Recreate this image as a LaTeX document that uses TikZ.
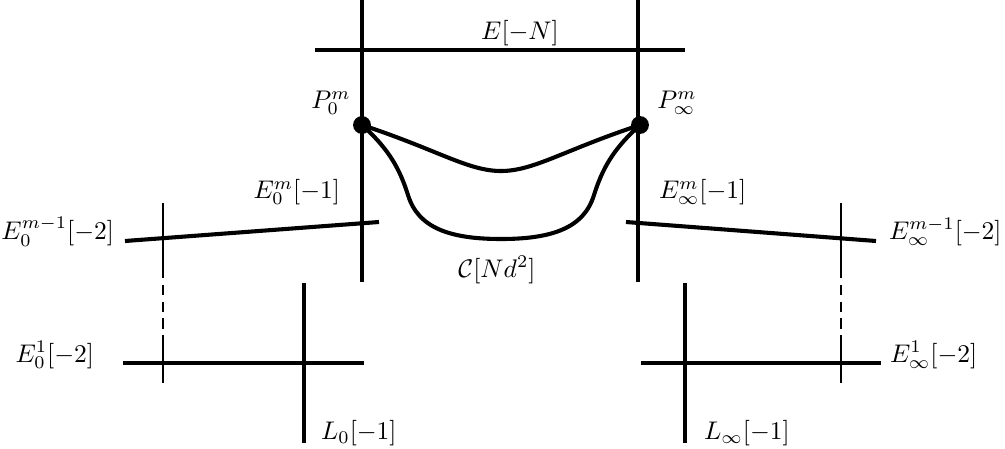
\documentclass[tikz,border=0pt]{standalone}
\usetikzlibrary{positioning}
\usepackage{amsmath, amssymb}

\begin{document}
\begin{tikzpicture}[x=0.3922pt, y=-0.3922pt,
    curve/.style={line width=1.6pt},
    fibre/.style={line width=0.45pt},
    dot/.style={circle, fill, inner sep=0pt, minimum size=7pt}]
  \useasboundingbox (0,0) rectangle (1005,448);

  % the two points on the curve
  \node[dot] (p0) at (362,125) {};
  \node[dot] (pinf) at (640,125) {};

  % ends of the lines
  \coordinate (a0top) at (362,0);   \coordinate (a0bot) at (362,282);
  \coordinate (ainftop) at (638,0); \coordinate (ainfbot) at (638,282);
  \coordinate (eleft) at (315,50);  \coordinate (eright) at (685,50);
  \coordinate (em0a) at (125,241);  \coordinate (em0b) at (379,222);
  \coordinate (emia) at (626,222);  \coordinate (emib) at (876,241);
  \coordinate (e10a) at (123,363);  \coordinate (e10b) at (364,363);
  \coordinate (e1ia) at (641,363);  \coordinate (e1ib) at (881,363);
  \coordinate (l0top) at (304,283); \coordinate (l0bot) at (304,443);
  \coordinate (litop) at (685,283); \coordinate (libot) at (685,443);

  \draw[curve] (a0top) -- (a0bot);
  \draw[curve] (ainftop) -- (ainfbot);
  \draw[curve] (eleft) -- (eright);
  \draw[curve] (em0a) -- (em0b);
  \draw[curve] (emia) -- (emib);
  \draw[curve] (e10a) -- (e10b);
  \draw[curve] (e1ia) -- (e1ib);
  \draw[curve] (l0top) -- (l0bot);
  \draw[curve] (litop) -- (libot);

  % the curve C
  \draw[curve] (p0.center) .. controls (438,150) and (468,171) .. (501,171)
                           .. controls (534,171) and (564,150) .. (pinf.center);
  \draw[curve] (p0.center) .. controls (390,150) and (400,170) .. (408,195)
                           .. controls (418,228) and (450,239) .. (501,239)
                           .. controls (552,239) and (584,228) .. (594,195)
                           .. controls (602,170) and (612,150) .. (pinf.center);

  % chains of (-2)-curves
  \foreach \x/\n in {163/left, 841/right} {
    \coordinate (\n top) at (\x,203);
    \coordinate (\n up) at (\x,268);
    \coordinate (\n low) at (\x,343);
    \coordinate (\n bot) at (\x,383);
    \draw[fibre] (\n top) -- (\n up);
    \draw[fibre, dash pattern=on 4pt off 2.6pt] (\n up) -- (\n low);
    \draw[fibre] (\n low) -- (\n bot);
  }

  % labels
  \node (lblE) at (520,33) {$E[-N]$};
  \node (lblP0) at (331,103) {$P_0^m$};
  \node (lblPi) at (677,103) {$P_\infty^m$};
  \node[anchor=east] (lblEm0) at (349,192) {$E_0^m[-1]$};
  \node[anchor=west] (lblEmi) at (650,192) {$E_\infty^m[-1]$};
  \node[anchor=east] (lblEk0) at (123,232) {$E_0^{m-1}[-2]$};
  \node[anchor=west] (lblEki) at (880,232) {$E_\infty^{m-1}[-2]$};
  \node (lblC) at (497,270) {$\mathcal{C}[Nd^2]$};
  \node[anchor=east] (lblE10) at (103,355) {$E_0^1[-2]$};
  \node[anchor=west] (lblE1i) at (881,355) {$E_\infty^1[-2]$};
  \node[anchor=west] (lblL0) at (312,433) {$L_0[-1]$};
  \node[anchor=west] (lblLi) at (695,433) {$L_\infty[-1]$};
\end{tikzpicture}
\end{document}
